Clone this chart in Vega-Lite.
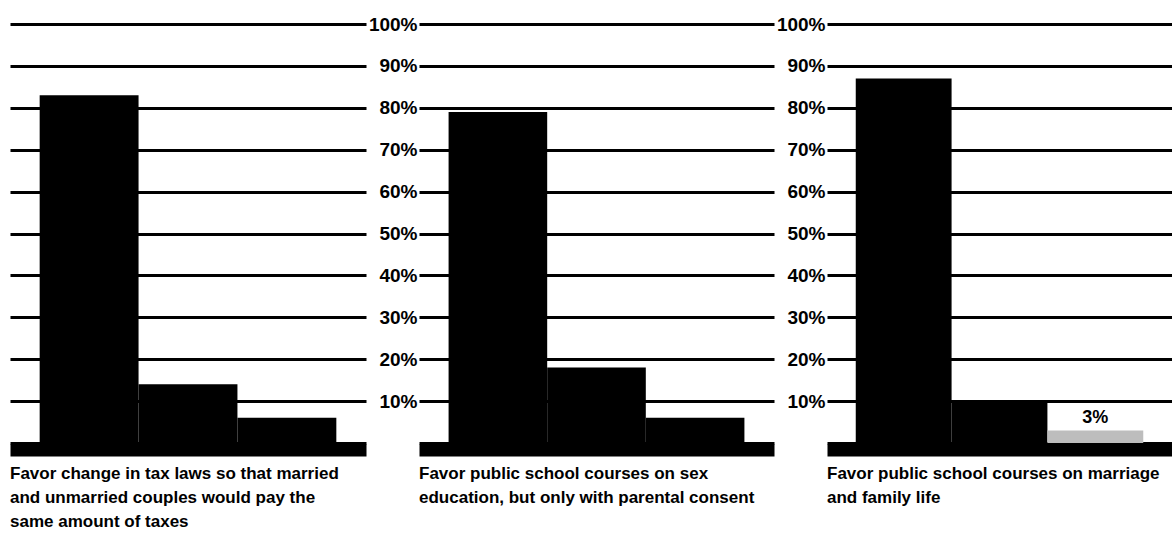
{
  "$schema": "https://vega.github.io/schema/vega-lite/v6.json",
  "background": "white",
  "padding": {"left": 10, "top": 15, "right": 0, "bottom": 0},
  "bounds": "flush",
  "spacing": 53,
  "datasets": {
    "poll": [
      {"panel": 1, "answer": "Favor", "pct": 83},
      {"panel": 1, "answer": "Oppose", "pct": 14},
      {"panel": 1, "answer": "Not sure", "pct": 6},
      {"panel": 2, "answer": "Favor", "pct": 79},
      {"panel": 2, "answer": "Oppose", "pct": 18},
      {"panel": 2, "answer": "Not sure", "pct": 6},
      {"panel": 3, "answer": "Favor", "pct": 87},
      {"panel": 3, "answer": "Oppose", "pct": 10},
      {"panel": 3, "answer": "Not sure", "pct": 3, "label": "3%"}
    ]
  },
  "config": {
    "view": {"stroke": null},
    "font": "Liberation Sans",
    "axisY": {
      "grid": true,
      "gridColor": "black",
      "gridWidth": 3,
      "gridOpacity": 1,
      "domain": false,
      "ticks": false,
      "labelFont": "Liberation Sans",
      "labelFontSize": 19,
      "labelFontWeight": "bold",
      "labelColor": "black",
      "labelPadding": 2,
      "title": null,
      "values": [0, 10, 20, 30, 40, 50, 60, 70, 80, 90, 100],
      "labelExpr": "datum.value == 0 ? '' : datum.value + '%'"
    },
    "axisX": {
      "labels": false,
      "ticks": false,
      "title": null,
      "domain": true,
      "domainColor": "black",
      "domainWidth": 12,
      "offset": 7,
      "grid": false
    },
    "title": {
      "orient": "bottom",
      "anchor": "start",
      "frame": "group",
      "font": "Liberation Sans",
      "fontSize": 17,
      "fontWeight": "bold",
      "color": "black",
      "lineHeight": 24,
      "offset": 16
    }
  },
  "hconcat": [
    {
      "width": 356,
      "height": 419,
      "data": {"name": "poll"},
      "transform": [{"filter": "datum.panel == 1"}],
      "title": {"text": ["Favor change in tax laws so that married", "and unmarried couples would pay the", "same amount of taxes"]},
      "mark": {"type": "bar", "color": "black"},
      "encoding": {
        "x": {"field": "answer", "type": "nominal", "sort": ["Favor", "Oppose", "Not sure"], "scale": {"paddingInner": 0, "paddingOuter": 0.3}},
        "y": {"field": "pct", "type": "quantitative", "scale": {"domain": [0, 100], "nice": false}, "axis": {"labels": false}}
      }
    },
    {
      "width": 355,
      "height": 419,
      "data": {"name": "poll"},
      "transform": [{"filter": "datum.panel == 2"}],
      "title": {"text": ["Favor public school courses on sex", "education, but only with parental consent"]},
      "mark": {"type": "bar", "color": "black"},
      "encoding": {
        "x": {"field": "answer", "type": "nominal", "sort": ["Favor", "Oppose", "Not sure"], "scale": {"paddingInner": 0, "paddingOuter": 0.3}},
        "y": {"field": "pct", "type": "quantitative", "scale": {"domain": [0, 100], "nice": false}}
      }
    },
    {
      "width": 345,
      "height": 419,
      "data": {"name": "poll"},
      "transform": [{"filter": "datum.panel == 3"}],
      "title": {"text": ["Favor public school courses on marriage", "and family life"]},
      "encoding": {
        "x": {"field": "answer", "type": "nominal", "sort": ["Favor", "Oppose", "Not sure"], "scale": {"paddingInner": 0, "paddingOuter": 0.3}},
        "y": {"field": "pct", "type": "quantitative", "scale": {"domain": [0, 100], "nice": false}}
      },
      "layer": [
        {
          "mark": {"type": "bar"},
          "encoding": {
            "color": {
              "condition": {"test": "datum.label", "value": "#bdbdbd"},
              "value": "black"
            }
          }
        },
        {
          "transform": [{"filter": "datum.label"}],
          "mark": {"type": "text", "font": "Liberation Sans", "fontSize": 18, "fontWeight": "bold", "color": "black", "baseline": "bottom", "dy": -3},
          "encoding": {"text": {"field": "label"}}
        }
      ]
    }
  ]
}
